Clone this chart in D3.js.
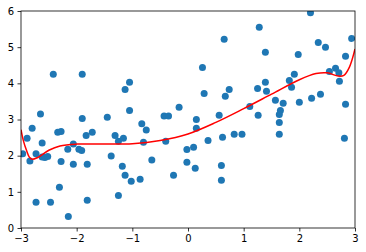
<!DOCTYPE html>
<html><head><meta charset="utf-8">
<script src="https://cdn.jsdelivr.net/npm/d3@7"></script>
<style>body{margin:0;background:#fff}svg{display:block}text{font-family:"DejaVu Sans",sans-serif;font-size:10px;fill:#000}</style>
</head><body>
<svg id="c" width="366" height="252"></svg>
<script>
const xs = [-2.42,-1.90,-1.05,-1.13,-2.65,-1.90,-1.45,-1.05,-2.80,-2.89,-2.62,-2.34,-2.28,-1.72,-1.83,-1.31,-1.25,-1.16,-2.06,-2.16,-1.96,-1.91,-2.97,-2.73,-2.84,-2.62,-2.57,-2.52,-2.28,-2.06,-1.81,-1.38,-1.18,-1.13,-1.02,-2.31,-2.73,-2.47,-1.81,-1.25,-2.15,-0.83,-0.75,-0.80,-0.65,-0.86,-0.40,-0.26,-0.02,-0.02,-0.43,-0.35,-0.16,0.15,0.15,0.56,0.36,0.62,0.83,0.97,0.10,0.13,0.60,0.60,0.65,0.26,0.29,0.74,0.67,2.20,1.28,2.94,2.34,2.47,1.39,1.98,2.83,2.54,2.65,2.71,1.91,1.82,2.72,1.39,1.86,1.25,1.41,1.57,1.71,2.00,2.22,2.38,2.83,1.66,1.64,1.64,1.11,1.26,1.64,2.81];
const ys = [4.25,4.25,4.03,3.83,3.15,3.03,3.06,3.25,2.76,2.48,2.35,2.65,2.67,2.65,2.56,2.56,2.40,2.48,2.32,2.18,2.18,2.14,2.05,2.05,1.85,1.96,1.95,1.98,1.84,1.76,1.76,1.99,1.71,1.46,1.29,1.13,0.71,0.71,0.77,0.90,0.32,2.88,2.71,2.37,1.88,1.35,2.40,1.46,2.17,1.82,3.10,3.10,3.34,3.00,2.76,3.12,2.42,2.51,2.59,2.59,2.23,1.65,1.73,1.32,5.22,4.44,3.72,3.83,3.64,5.95,5.55,5.24,5.13,5.00,4.86,4.80,4.75,4.33,4.42,4.29,4.25,4.08,4.06,4.03,3.89,3.86,3.78,3.53,3.45,3.48,3.59,3.70,3.42,3.25,3.14,2.92,3.36,3.12,2.59,2.48];
const fitX = [-3.0,-2.96,-2.9,-2.85,-2.8,-2.7,-2.5,-2.3,-2.0,-1.5,-1.0,-0.5,0.0,0.5,1.0,1.5,2.0,2.3,2.5,2.7,2.8,2.9,3.0];
const fitY = [2.72,2.43,2.14,1.96,1.90,1.95,2.15,2.27,2.32,2.32,2.33,2.42,2.60,2.92,3.30,3.70,4.10,4.27,4.29,4.20,4.22,4.45,4.95];
const xTicks = [-3,-2,-1,0,1,2,3];
const yTicks = [0,1,2,3,4,5,6];

const L=21, R=355, T=11, B=228;
const x = d3.scaleLinear().domain([-3,3]).range([L,R]);
const y = d3.scaleLinear().domain([0,6]).range([B,T]);
const svg = d3.select("#c");

const gp = svg.append("g");
gp.append("defs").append("clipPath").attr("id","clip").append("rect")
  .attr("x",L).attr("y",T).attr("width",R-L).attr("height",B-T);
const plot = gp.append("g").attr("clip-path","url(#clip)");
plot.selectAll("circle").data(xs.map((v,i)=>[v,ys[i]])).join("circle")
  .attr("cx",d=>x(d[0])).attr("cy",d=>y(d[1])).attr("r",3.5).attr("fill","#1f77b4");
plot.append("path").datum(fitX.map((v,i)=>[v,fitY[i]]))
  .attr("d", d3.line().x(d=>x(d[0])).y(d=>y(d[1])).curve(d3.curveCatmullRom))
  .attr("fill","none").attr("stroke","red").attr("stroke-width",1.5);

const fmt = d => (d<0?"\u2212":"") + Math.abs(d);
const xa = svg.append("g").attr("transform",`translate(0,${B})`)
  .call(d3.axisBottom(x).tickValues(xTicks).tickFormat(fmt).tickSize(3.5).tickPadding(3.5));
const ya = svg.append("g").attr("transform",`translate(${L},0)`)
  .call(d3.axisLeft(y).tickValues(yTicks).tickFormat(fmt).tickSize(3.5).tickPadding(3.5));
[xa,ya].forEach(g=>{g.select(".domain").remove();g.selectAll("line").attr("stroke","#000").attr("stroke-width",0.8);g.selectAll("text").attr("font-family","DejaVu Sans").attr("font-size",10).attr("fill","#000");});
svg.append("rect").attr("x",L).attr("y",T).attr("width",R-L).attr("height",B-T)
  .attr("fill","none").attr("stroke","#000").attr("stroke-width",0.8);
</script>
</body></html>
